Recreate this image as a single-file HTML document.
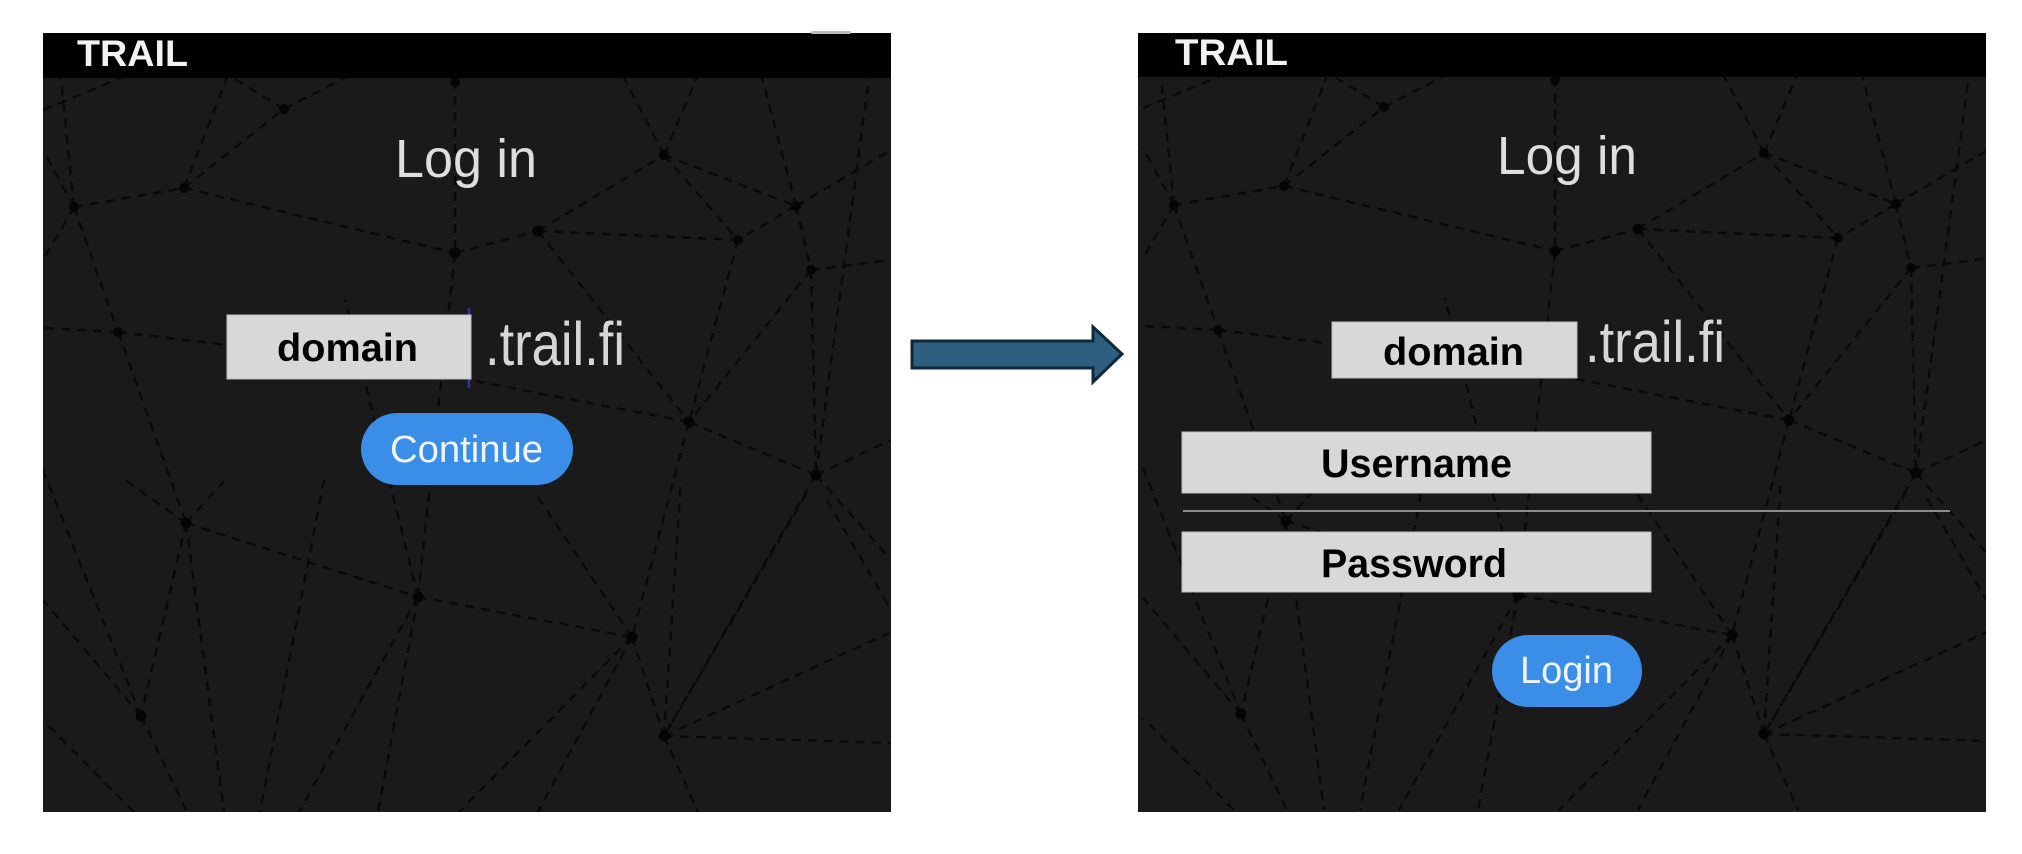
<!DOCTYPE html>
<html>
<head>
<meta charset="utf-8">
<style>
  html, body { margin:0; padding:0; background:#ffffff; }
  body { width:2022px; height:854px; overflow:hidden; }
  svg { display:block; }
  .lbl { font-family:"Liberation Sans", Arial, sans-serif; }
</style>
</head>
<body>
<svg width="2022" height="854" viewBox="0 0 2022 854" xmlns="http://www.w3.org/2000/svg">
  <defs>
    <clipPath id="clipL"><rect x="43" y="78" width="848" height="734"/></clipPath>
    <clipPath id="clipR"><rect x="1138" y="77" width="848" height="735"/></clipPath>
    <g id="net">
      <g stroke="#060606" stroke-width="2.4" stroke-dasharray="9 7" fill="none" opacity="0.8">
        <line x1="74" y1="207" x2="184" y2="188"/>
        <line x1="184" y1="188" x2="284" y2="109"/>
        <line x1="284" y1="109" x2="220" y2="70"/>
        <line x1="284" y1="109" x2="360" y2="70"/>
        <line x1="74" y1="207" x2="43" y2="150"/>
        <line x1="74" y1="207" x2="60" y2="70"/>
        <line x1="74" y1="207" x2="118" y2="332"/>
        <line x1="74" y1="207" x2="43" y2="260"/>
        <line x1="184" y1="188" x2="455" y2="253"/>
        <line x1="184" y1="188" x2="230" y2="70"/>
        <line x1="455" y1="80" x2="455" y2="253"/>
        <line x1="455" y1="253" x2="538" y2="231"/>
        <line x1="418" y1="597" x2="455" y2="253"/>
        <line x1="418" y1="597" x2="345" y2="300"/>
        <line x1="538" y1="231" x2="664" y2="155"/>
        <line x1="538" y1="231" x2="689" y2="422"/>
        <line x1="538" y1="231" x2="738" y2="240"/>
        <line x1="664" y1="155" x2="620" y2="70"/>
        <line x1="664" y1="155" x2="700" y2="70"/>
        <line x1="664" y1="155" x2="796" y2="206"/>
        <line x1="664" y1="155" x2="738" y2="240"/>
        <line x1="796" y1="206" x2="760" y2="70"/>
        <line x1="796" y1="206" x2="891" y2="150"/>
        <line x1="796" y1="206" x2="811" y2="270"/>
        <line x1="796" y1="206" x2="738" y2="240"/>
        <line x1="811" y1="270" x2="891" y2="260"/>
        <line x1="811" y1="270" x2="816" y2="475"/>
        <line x1="738" y1="240" x2="689" y2="422"/>
        <line x1="811" y1="270" x2="689" y2="422"/>
        <line x1="689" y1="422" x2="816" y2="475"/>
        <line x1="689" y1="422" x2="632" y2="637"/>
        <line x1="689" y1="422" x2="470" y2="380"/>
        <line x1="816" y1="475" x2="891" y2="440"/>
        <line x1="816" y1="475" x2="891" y2="560"/>
        <line x1="816" y1="475" x2="664" y2="736"/>
        <line x1="816" y1="475" x2="870" y2="70"/>
        <line x1="118" y1="332" x2="186" y2="523"/>
        <line x1="118" y1="332" x2="43" y2="328"/>
        <line x1="118" y1="332" x2="227" y2="345"/>
        <line x1="186" y1="523" x2="141" y2="716"/>
        <line x1="186" y1="523" x2="125" y2="480"/>
        <line x1="186" y1="523" x2="225" y2="480"/>
        <line x1="186" y1="523" x2="224" y2="812"/>
        <line x1="186" y1="523" x2="418" y2="597"/>
        <line x1="418" y1="597" x2="299" y2="812"/>
        <line x1="418" y1="597" x2="378" y2="812"/>
        <line x1="418" y1="597" x2="632" y2="637"/>
        <line x1="632" y1="637" x2="459" y2="812"/>
        <line x1="632" y1="637" x2="538" y2="812"/>
        <line x1="632" y1="637" x2="535" y2="493"/>
        <line x1="632" y1="637" x2="664" y2="736"/>
        <line x1="664" y1="736" x2="681" y2="480"/>
        <line x1="664" y1="736" x2="807" y2="493"/>
        <line x1="664" y1="736" x2="889" y2="633"/>
        <line x1="664" y1="736" x2="891" y2="743"/>
        <line x1="664" y1="736" x2="698" y2="812"/>
        <line x1="141" y1="716" x2="187" y2="812"/>
        <line x1="141" y1="716" x2="43" y2="600"/>
        <line x1="141" y1="716" x2="43" y2="470"/>
        <line x1="324" y1="480" x2="260" y2="812"/>
        <line x1="134" y1="812" x2="43" y2="720"/>
        <line x1="827" y1="500" x2="891" y2="610"/>
        <line x1="43" y1="110" x2="140" y2="70"/>
      </g>
      <g fill="#050505">
        <circle cx="455" cy="82" r="5"/>
        <circle cx="284" cy="109" r="5"/>
        <circle cx="184" cy="188" r="5"/>
        <circle cx="74" cy="207" r="5"/>
        <circle cx="455" cy="253" r="5.5"/>
        <circle cx="538" cy="231" r="5.5"/>
        <circle cx="664" cy="155" r="5"/>
        <circle cx="796" cy="206" r="5"/>
        <circle cx="738" cy="240" r="5"/>
        <circle cx="811" cy="270" r="5"/>
        <circle cx="118" cy="332" r="5"/>
        <circle cx="689" cy="422" r="5.5"/>
        <circle cx="816" cy="475" r="5.5"/>
        <circle cx="186" cy="523" r="5.5"/>
        <circle cx="418" cy="597" r="5.5"/>
        <circle cx="632" cy="637" r="5.5"/>
        <circle cx="141" cy="716" r="5.5"/>
        <circle cx="664" cy="736" r="5.5"/>
      </g>
    </g>
  </defs>

  <!-- LEFT PANEL -->
  <rect x="43" y="33" width="848" height="779" fill="#1a1a1a"/>
  <g clip-path="url(#clipL)"><use href="#net"/></g>
  <rect x="43" y="33" width="848" height="45" fill="#000000"/>
  <rect x="811" y="31" width="40" height="3" rx="1.5" fill="#bdbdbd"/>
  <text class="lbl" x="77" y="66" font-size="37" font-weight="bold" fill="#f2f2f2" textLength="111" lengthAdjust="spacingAndGlyphs">TRAIL</text>

  <text class="lbl" x="395" y="177" font-size="54" fill="#dedede" textLength="142" lengthAdjust="spacingAndGlyphs">Log in</text>

  <line x1="469" y1="308" x2="469" y2="388" stroke="#2b3f86" stroke-width="2.5"/>
  <rect x="227" y="315" width="244" height="64" fill="#d8d8d8" stroke="#bdbdbd" stroke-width="1"/>
  <text class="lbl" x="277" y="361" font-size="39" font-weight="bold" fill="#000" textLength="141" lengthAdjust="spacingAndGlyphs">domain</text>
  <text class="lbl" x="485" y="365" font-size="61" fill="#d6d6d6" textLength="140" lengthAdjust="spacingAndGlyphs">.trail.fi</text>

  <rect x="361" y="413" width="212" height="72" rx="36" ry="36" fill="#3b8ee8"/>
  <text class="lbl" x="390" y="462" font-size="38" fill="#eef5ff" textLength="153" lengthAdjust="spacingAndGlyphs">Continue</text>

  <!-- ARROW -->
  <polygon points="912,341 1093,341 1093,327 1122,354 1093,382 1093,368 912,368" fill="#2e5f80" stroke="#10283a" stroke-width="3" stroke-linejoin="miter"/>

  <!-- RIGHT PANEL -->
  <rect x="1138" y="33" width="848" height="779" fill="#1a1a1a"/>
  <g clip-path="url(#clipR)"><g transform="translate(1100,-2)"><use href="#net"/></g></g>
  <rect x="1138" y="33" width="848" height="44" fill="#000000"/>
  <text class="lbl" x="1175" y="65" font-size="37" font-weight="bold" fill="#f2f2f2" textLength="113" lengthAdjust="spacingAndGlyphs">TRAIL</text>

  <text class="lbl" x="1497" y="174" font-size="54" fill="#dedede" textLength="140" lengthAdjust="spacingAndGlyphs">Log in</text>

  <rect x="1332" y="322" width="245" height="56" fill="#d8d8d8" stroke="#bdbdbd" stroke-width="1"/>
  <text class="lbl" x="1383" y="365" font-size="39" font-weight="bold" fill="#000" textLength="141" lengthAdjust="spacingAndGlyphs">domain</text>
  <text class="lbl" x="1585" y="362" font-size="58" fill="#d6d6d6" textLength="140" lengthAdjust="spacingAndGlyphs">.trail.fi</text>

  <rect x="1182" y="432" width="469" height="61" fill="#d8d8d8" stroke="#bdbdbd" stroke-width="1"/>
  <text class="lbl" x="1321" y="477" font-size="40" font-weight="bold" fill="#000" textLength="191" lengthAdjust="spacingAndGlyphs">Username</text>

  <line x1="1183" y1="511" x2="1950" y2="511" stroke="#8c8c8c" stroke-width="2"/>

  <rect x="1182" y="532" width="469" height="60" fill="#d8d8d8" stroke="#bdbdbd" stroke-width="1"/>
  <text class="lbl" x="1321" y="577" font-size="40" font-weight="bold" fill="#000" textLength="186" lengthAdjust="spacingAndGlyphs">Password</text>

  <rect x="1492" y="635" width="150" height="72" rx="36" ry="36" fill="#3b8ee8"/>
  <text class="lbl" x="1520" y="683" font-size="38" fill="#eef5ff" textLength="93" lengthAdjust="spacingAndGlyphs">Login</text>
</svg>
</body>
</html>
